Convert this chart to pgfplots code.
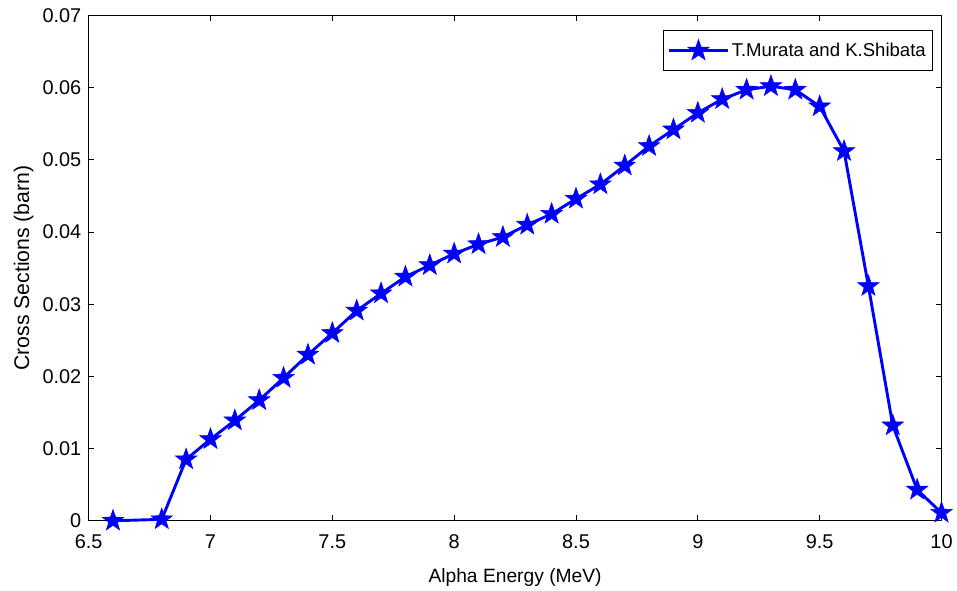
\documentclass[border=0pt]{standalone}
\usepackage{fontspec}
\setmainfont{Liberation Sans}
\usepackage{pgfplots}
\pgfplotsset{compat=1.18}

% filled five-pointed star, like MATLAB's pentagram marker
\pgfdeclareplotmark{pentagram}{%
  \pgfpathmoveto{\pgfpointpolar{90}{\pgfplotmarksize}}%
  \pgfpathlineto{\pgfpointpolar{126}{0.4\pgfplotmarksize}}%
  \pgfpathlineto{\pgfpointpolar{162}{\pgfplotmarksize}}%
  \pgfpathlineto{\pgfpointpolar{198}{0.4\pgfplotmarksize}}%
  \pgfpathlineto{\pgfpointpolar{234}{\pgfplotmarksize}}%
  \pgfpathlineto{\pgfpointpolar{270}{0.4\pgfplotmarksize}}%
  \pgfpathlineto{\pgfpointpolar{306}{\pgfplotmarksize}}%
  \pgfpathlineto{\pgfpointpolar{342}{0.4\pgfplotmarksize}}%
  \pgfpathlineto{\pgfpointpolar{18}{\pgfplotmarksize}}%
  \pgfpathlineto{\pgfpointpolar{54}{0.4\pgfplotmarksize}}%
  \pgfpathclose
  \pgfusepathqfillstroke
}

\definecolor{mblue}{RGB}{0,0,255}

\begin{document}
\begin{tikzpicture}
\begin{axis}[
    scale only axis,
    width=643pt, height=381pt,
    xmin=6.5, xmax=10,
    ymin=0, ymax=0.07,
    scaled y ticks=false,
    xtick={6.5,7,7.5,8,8.5,9,9.5,10},
    xticklabels={6.5,7,7.5,8,8.5,9,9.5,10},
    ytick={0,0.01,0.02,0.03,0.04,0.05,0.06,0.07},
    yticklabels={0,0.01,0.02,0.03,0.04,0.05,0.06,0.07},
    tick align=inside,
    major tick length=4pt,
    tick style={black, line width=0.6pt},
    axis line style={line width=0.9pt},
    ticklabel style={font=\fontsize{15}{17}\selectfont},
    xticklabel style={yshift=-7pt},
    yticklabel style={xshift=-2pt},
    xlabel={Alpha Energy (MeV)},
    ylabel={Cross Sections (barn)},
    xlabel style={font=\fontsize{14.5}{16}\selectfont, yshift=-8pt},
    ylabel style={font=\fontsize{16}{18}\selectfont, yshift=0pt},
    clip=false,
    legend style={at={(0.99,0.972)}, anchor=north east, draw=black,
        line width=0.8pt, font=\fontsize{14}{16}\selectfont,
        inner xsep=3pt, inner ysep=7pt},
    legend cell align=left,
    legend image code/.code={%
        \draw[#1, mark=none] (0pt,0pt) -- (44pt,0pt);
        \draw[#1, line width=0.6pt] plot[only marks] coordinates {(22pt,0pt)};
    },
]
\addplot[color=mblue, line width=2.2pt, mark=pentagram, mark size=8.5pt,
    mark options={line width=0.4pt, fill=mblue, draw=mblue}] coordinates {
    (6.6,0) (6.8,0.0002) (6.9,0.0085) (7.0,0.0113) (7.1,0.0139) (7.2,0.0167)
    (7.3,0.0198) (7.4,0.0230) (7.5,0.0260) (7.6,0.0291) (7.7,0.0315)
    (7.8,0.0338) (7.9,0.0354) (8.0,0.0370) (8.1,0.0383) (8.2,0.0393)
    (8.3,0.0410) (8.4,0.0425) (8.5,0.0446) (8.6,0.0466) (8.7,0.0492)
    (8.8,0.0519) (8.9,0.0542) (9.0,0.0565) (9.1,0.0584) (9.2,0.0597)
    (9.3,0.0602) (9.4,0.0597) (9.5,0.0574) (9.6,0.0512) (9.7,0.0325)
    (9.8,0.0132) (9.9,0.0043) (10.0,0.0011)
};
\addlegendentry{T.Murata and K.Shibata}
\end{axis}
% a little white margin on the left and at the top, as in the reference
\path (current bounding box.west) ++(-7pt,0pt);
\path (current bounding box.north) ++(0pt,3pt);
\end{tikzpicture}
\end{document}
